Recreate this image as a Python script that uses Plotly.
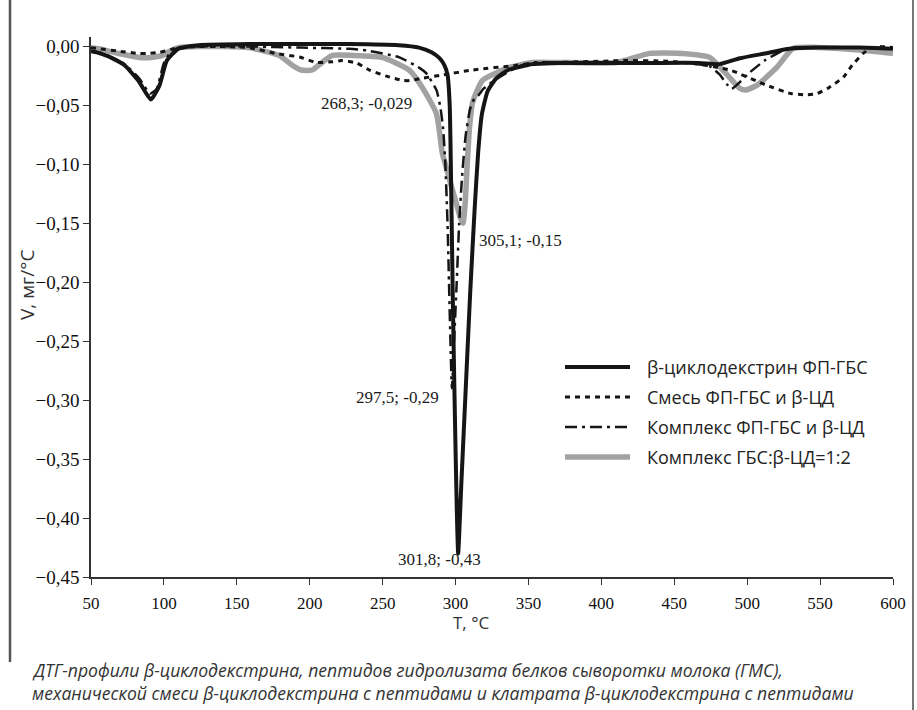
import plotly.graph_objects as go

# ---------------- data ----------------
bcd_T = [50, 54, 62, 73, 83, 91, 97, 102, 110, 124, 158, 193, 227, 261, 275, 283.5, 289, 292.4, 294.5, 296,
         297, 298.2, 299.5, 300.8, 301.8, 304, 307, 310, 313, 315.5, 318, 322, 328, 336, 353, 371, 400, 433, 467, 481,
         495, 512, 529, 548, 577, 600]
bcd_V = [-0.004, -0.005, -0.0085, -0.016, -0.030, -0.045, -0.033, -0.012, -0.002, 0.001,
         0.002, 0.002, 0.002, 0.001, -0.001, -0.005, -0.010, -0.016, -0.024, -0.05,
         -0.12, -0.22, -0.31, -0.39, -0.43, -0.37, -0.29, -0.21, -0.14, -0.09,
         -0.058, -0.038, -0.027, -0.020, -0.015, -0.014, -0.014, -0.014, -0.014, -0.015,
         -0.010, -0.006, -0.002, -0.001, -0.001, -0.002]

mix_T = [50, 55.5, 69, 83, 88, 97, 107, 124, 158, 177,
         193, 204.5, 215.5, 222, 232, 241, 252, 263.5, 268.3, 277,
         289, 311.6, 341.8, 353, 371, 417, 445, 463, 488, 513.5,
         530, 541, 548, 556, 566, 572, 579.4, 584, 590, 600]
mix_V = [-0.001, -0.002, -0.004, -0.006, -0.006, -0.005, -0.002, 0.000, -0.001, -0.006,
         -0.009, -0.0136, -0.013, -0.012, -0.014, -0.020, -0.025, -0.0288, -0.029, -0.027,
         -0.0246, -0.020, -0.016, -0.0144, -0.0136, -0.012, -0.0125, -0.0144, -0.020, -0.033,
         -0.040, -0.041, -0.040, -0.035, -0.026, -0.016, -0.006, -0.002, 0.000, -0.001]

cx_T = [50, 55, 62, 73, 83, 90.5, 95, 100, 104, 110,
        124, 158, 193, 227, 239, 261.5, 275, 280, 287, 289.6,
        291.5, 293, 294.5, 295.5, 296.5, 297.5, 299, 300.8, 302.5, 304.5,
        307, 310, 313, 316, 319, 326.7, 341.8, 353, 371, 433,
        462.7, 474.3, 481.2, 486, 489.4, 493.5, 501.8, 512, 522, 529.3,
        548, 577, 600]
cx_V = [-0.004, -0.005, -0.008, -0.015, -0.027, -0.040, -0.036, -0.014, -0.006, -0.001,
        0.000, 0.000, -0.001, -0.002, -0.0034, -0.0093, -0.018, -0.0229, -0.0373, -0.0517,
        -0.07, -0.10, -0.15, -0.20, -0.25, -0.29, -0.25, -0.20, -0.15, -0.11,
        -0.075, -0.053, -0.044, -0.041, -0.036, -0.0288, -0.0178, -0.0136, -0.0136, -0.0136,
        -0.0144, -0.017, -0.024, -0.032, -0.036, -0.032, -0.022, -0.012, -0.005, -0.0017,
        -0.001, -0.001, -0.0017]

gr_T = [50, 55.5, 62, 69, 83, 91, 99, 104, 110, 124,
        158, 179, 188, 194, 201.7, 208, 215.5, 230, 249.8, 268.4,
        277.3, 286.9, 291, 293, 297, 300.5, 303.5, 305.1, 306.5, 308,
        309.5, 311.6, 318.5, 337, 353, 371, 410.5, 433, 455.8, 474.3,
        483.3, 495, 499, 506.6, 520.3, 531.3, 548, 577, 600]
gr_V = [-0.001, -0.002, -0.004, -0.006, -0.0093, -0.0093, -0.0076, -0.004, -0.001, 0.000,
        -0.001, -0.0076, -0.016, -0.020, -0.020, -0.014, -0.0076, -0.0076, -0.0093, -0.0203,
        -0.035, -0.057, -0.091, -0.10, -0.118, -0.133, -0.146, -0.15, -0.135, -0.10,
        -0.07, -0.048, -0.0288, -0.0178, -0.0136, -0.0136, -0.0136, -0.0059, -0.0059, -0.0093,
        -0.020, -0.0356, -0.037, -0.033, -0.0178, -0.0017, -0.0008, -0.003, -0.0059]

names = ["β-циклодекстрин ФП-ГБС", "Смесь ФП-ГБС и β-ЦД",
         "Комплекс ФП-ГБС и β-ЦД", "Комплекс ГБС:β-ЦД=1:2"]

x_ticks = [50, 100, 150, 200, 250, 300, 350, 400, 450, 500, 550, 600]
y_ticks = [0.00, -0.05, -0.10, -0.15, -0.20, -0.25, -0.30, -0.35, -0.40, -0.45]

peak_labels = [  # text, x, y, xanchor
    ("268,3; -0,029", 238.8, -0.0483, "center"),
    ("305,1; -0,15", 315.0, -0.1644, "left"),
    ("297,5; -0,29", 290.3, -0.2975, "right"),
    ("301,8; -0,43", 288.9, -0.4348, "center"),
]

caption = ["ДТГ-профили β-циклодекстрина, пептидов гидролизата белков сыворотки молока (ГМС),",
           "механической смеси β-циклодекстрина с пептидами и клатрата β-циклодекстрина с пептидами"]

# ---------------- styling ----------------
W, H = 917, 710
ML, MR, MT, MB = 91, 24, 37, 133
styles = [
    dict(color="#151515", width=4, dash="solid"),
    dict(color="#151515", width=3, dash="5px,5px"),
    dict(color="#151515", width=2.5, dash="12px,5px,3px,5px"),
    dict(color="#a2a2a2", width=5.5, dash="solid"),
]
series = [(bcd_T, bcd_V), (mix_T, mix_V), (cx_T, cx_V), (gr_T, gr_V)]


def pxx(px):
    return (px - ML) / (W - ML - MR)


def pxy(py):
    return (H - MB - py) / (H - MT - MB)


fig = go.Figure()
for i in [3, 1, 2, 0]:
    t, v = series[i]
    fig.add_trace(go.Scatter(x=t, y=v, mode="lines", name=names[i],
                             line=dict(shape="spline", smoothing=0.5, **styles[i]),
                             showlegend=False, hoverinfo="skip"))

serif = "Liberation Serif, Times New Roman, serif"
sans = "Open Sans, Noto Sans, sans-serif"

fig.update_layout(
    width=W, height=H,
    margin=dict(l=ML, r=MR, t=MT, b=MB, pad=0),
    paper_bgcolor="white", plot_bgcolor="white",
    separators=", ",
    xaxis=dict(range=[50, 600], tickvals=x_ticks, ticktext=[str(v) for v in x_ticks],
               showgrid=False, zeroline=False, showline=True, linecolor="#333", linewidth=1.5,
               ticks="outside", ticklen=6, tickcolor="#333", tickwidth=1.2, ticklabelstandoff=4,
               tickfont=dict(family=serif, size=17, color="#111")),
    yaxis=dict(range=[-0.45, 0.008], tickvals=y_ticks, tickformat=".2f",
               showgrid=False, zeroline=False, showline=True, linecolor="#333", linewidth=1.5,
               ticks="outside", ticklen=6, tickcolor="#333", tickwidth=1.2,
               tickfont=dict(family=serif, size=19, color="#111")),
)

ann = []
for txt, x, y, xa in peak_labels:
    ann.append(dict(text=txt, x=x, y=y, xref="x", yref="y", xanchor=xa, yanchor="middle",
                    showarrow=False, font=dict(family=serif, size=17, color="#1a1a1a")))

# axis titles
ann.append(dict(text="V, мг/°C", x=pxx(27), y=pxy(285), xref="paper", yref="paper",
                textangle=-90, showarrow=False, xanchor="center", yanchor="middle",
                font=dict(family=sans, size=19, color="#333")))
ann.append(dict(text="T, °C", x=pxx(471), y=pxy(622), xref="paper", yref="paper",
                showarrow=False, xanchor="center", yanchor="middle",
                font=dict(family=sans, size=17, color="#333")))

# caption
for k, line in enumerate(caption):
    ann.append(dict(text="<i>" + line + "</i>", x=pxx(30), y=pxy(670 + 23 * k), xref="paper", yref="paper",
                    showarrow=False, xanchor="left", yanchor="middle",
                    font=dict(family=sans, size=17.6, color="#333")))

# legend (drawn manually so the samples are as long as in the reference)
shapes = []
leg_rows = [367, 397, 427, 457]
for i, py in enumerate(leg_rows):
    st = styles[i]
    shapes.append(dict(type="line", xref="paper", yref="paper",
                       x0=pxx(565), x1=pxx(630), y0=pxy(py), y1=pxy(py),
                       line=dict(color=st["color"], width=st["width"], dash=st["dash"])))
    ann.append(dict(text=names[i], x=pxx(645), y=pxy(py), xref="paper", yref="paper",
                    showarrow=False, xanchor="left", yanchor="middle",
                    font=dict(family=sans, size=18, color="#222")))

# scan frame lines
shapes.append(dict(type="line", xref="paper", yref="paper", x0=pxx(10), x1=pxx(10),
                   y0=pxy(0), y1=pxy(662), line=dict(color="#555", width=2.5)))
shapes.append(dict(type="line", xref="paper", yref="paper", x0=pxx(913), x1=pxx(913),
                   y0=pxy(0), y1=pxy(710), line=dict(color="#777", width=2)))

fig.update_layout(annotations=ann, shapes=shapes)
fig.write_html("out.html", config={"displayModeBar": False},
               post_script="document.body.style.margin='0';document.body.style.overflow='hidden';")
